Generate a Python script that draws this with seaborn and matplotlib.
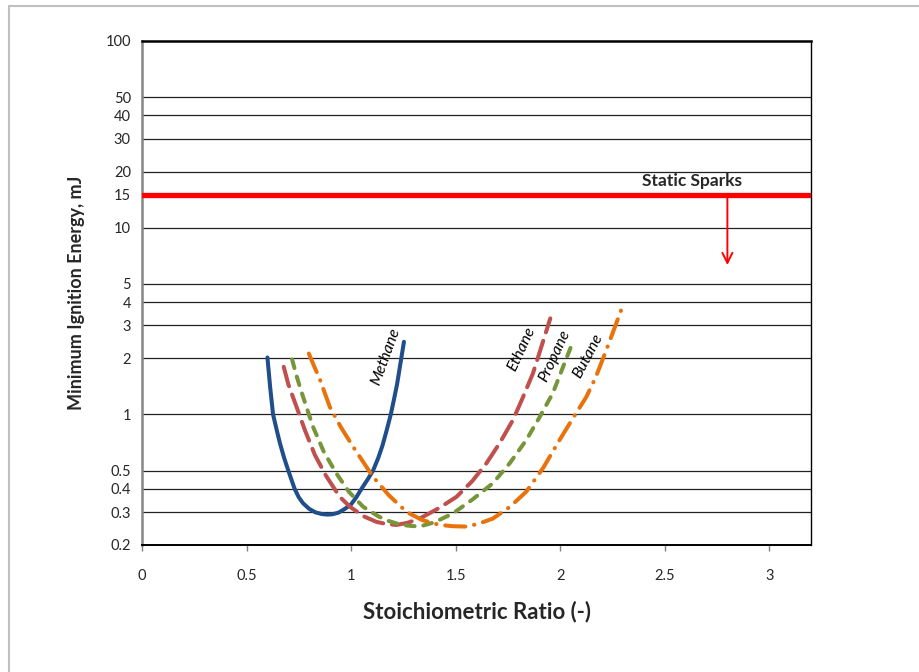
"""Minimum ignition energy vs stoichiometric ratio for light alkanes."""

import matplotlib
matplotlib.use('Agg')
import matplotlib.pyplot as plt
import seaborn as sns
import pandas as pd

# curve data
methane_x = [0.60, 0.613, 0.627, 0.645, 0.66, 0.68, 0.70, 0.73, 0.75, 0.77, 0.80,
             0.83, 0.86, 0.885, 0.91, 0.94, 0.97, 1.00, 1.025, 1.05, 1.08, 1.105,
             1.13, 1.15, 1.17, 1.19, 1.205, 1.22, 1.237, 1.253]
methane_y = [2.02, 1.40, 1.00, 0.82, 0.70, 0.585, 0.50, 0.40, 0.36, 0.335, 0.312,
             0.299, 0.293, 0.291, 0.292, 0.298, 0.312, 0.33, 0.36, 0.40, 0.45, 0.50,
             0.585, 0.68, 0.82, 1.00, 1.20, 1.45, 1.90, 2.45]

ethane_x = [0.678, 0.70, 0.739, 0.78, 0.827, 0.88, 0.946, 0.994, 1.06, 1.121, 1.17,
            1.217, 1.27, 1.328, 1.42, 1.504, 1.58, 1.647, 1.71, 1.774, 1.82, 1.87,
            1.91, 1.953]
ethane_y = [1.80, 1.45, 1.10, 0.82, 0.607, 0.47, 0.362, 0.321, 0.285, 0.266, 0.259,
            0.256, 0.263, 0.277, 0.315, 0.362, 0.44, 0.547, 0.70, 0.933, 1.22, 1.66,
            2.30, 3.27]

propane_x = [0.718, 0.74, 0.76, 0.818, 0.87, 0.93, 0.99, 1.057, 1.13, 1.17, 1.217,
             1.27, 1.328, 1.40, 1.487, 1.58, 1.678, 1.76, 1.838, 1.90, 1.965, 2.01,
             2.061]
propane_y = [1.97, 1.60, 1.35, 0.859, 0.63, 0.483, 0.385, 0.321, 0.285, 0.271, 0.261,
             0.254, 0.251, 0.265, 0.295, 0.35, 0.428, 0.55, 0.729, 0.96, 1.30, 1.75,
             2.45]

butane_x = [0.798, 0.82, 0.85, 0.898, 0.95, 1.010, 1.105, 1.18, 1.265, 1.34, 1.424,
            1.49, 1.551, 1.61, 1.678, 1.76, 1.838, 1.92, 1.997, 2.06, 2.125, 2.17,
            2.22, 2.26, 2.297]
butane_y = [2.12, 1.85, 1.55, 1.10, 0.86, 0.671, 0.464, 0.37, 0.301, 0.272, 0.256,
            0.252, 0.251, 0.260, 0.277, 0.32, 0.386, 0.52, 0.729, 0.95, 1.24, 1.58,
            2.20, 2.90, 3.75]

y_ticks = [0.2, 0.3, 0.4, 0.5, 1, 2, 3, 4, 5, 10, 15, 20, 30, 40, 50, 100]
x_ticks = [0, 0.5, 1, 1.5, 2, 2.5, 3]

static_spark_level = 15
arrow_x, arrow_tip = 2.8, 6.1

# name, x, y, colour, dash pattern, label position, label angle
curves = [
    ('Methane', methane_x, methane_y, '#1f4e8a', '-', (1.165, 2.05), 70),
    ('Ethane', ethane_x, ethane_y, '#c0504d', (0, (5.0, 2.2)), (1.815, 2.25), 65),
    ('Propane', propane_x, propane_y, '#77963a', (0, (2.2, 2.2)), (1.975, 2.05), 65),
    ('Butane', butane_x, butane_y, '#e8730c', (0, (5.0, 2.2, 0.1, 2.2)), (2.135, 2.05), 62),
]

sns.set_theme(style='white')
plt.rcParams['font.family'] = ['Lato', 'DejaVu Sans']

fig = plt.figure(figsize=(9.19, 6.72), dpi=100)
ax = fig.add_axes([0.1545, 0.189, 0.728, 0.750])

for name, xs, ys, color, ls, lpos, rot in curves:
    df = pd.DataFrame({'x': xs, 'y': ys})
    sns.lineplot(data=df, x='x', y='y', ax=ax, sort=False, estimator=None,
                 color=color, linewidth=2.9, linestyle=ls,
                 dash_capstyle='round', solid_capstyle='round',
                 solid_joinstyle='round')
    ax.text(lpos[0], lpos[1], name, rotation=rot, style='italic', fontsize=11.5,
            ha='center', va='center', color='black')

ax.set_yscale('log')
ax.set_xlim(0, 3.2)
ax.set_ylim(0.2, 100)

for t in y_ticks[1:-1]:
    ax.axhline(t, color='#222222', linewidth=0.9, zorder=0)

ax.axhline(static_spark_level, color='#ff0000', linewidth=3.8, zorder=3)
ax.annotate('', xy=(arrow_x, arrow_tip), xytext=(arrow_x, static_spark_level),
            arrowprops=dict(arrowstyle='->,head_width=0.3,head_length=0.6',
                            color='#ff0000', lw=1.4))
ax.text(2.63, 17.8, 'Static Sparks', fontsize=12.5, fontweight='bold',
        ha='center', va='center')

ax.set_yticks(y_ticks)
ax.set_yticklabels([f'{t:g}' for t in y_ticks])
ax.minorticks_off()
ax.set_xticks(x_ticks)
ax.set_xticklabels([f'{t:g}' for t in x_ticks])
ax.tick_params(axis='y', length=0, pad=8, labelsize=10.5)
ax.tick_params(axis='x', direction='out', length=4, width=1, color='#808080',
               pad=13, labelsize=10.5, bottom=True)

for side in ['top', 'right', 'bottom']:
    ax.spines[side].set_color('black')
ax.spines['top'].set_linewidth(1.8)
ax.spines['right'].set_linewidth(1.0)
ax.spines['bottom'].set_linewidth(1.4)
ax.spines['left'].set_color('#868686')
ax.spines['left'].set_linewidth(1.8)

ax.set_xlabel('Stoichiometric Ratio (-)', fontsize=16, fontweight='bold', labelpad=13)
ax.set_ylabel('Minimum Ignition Energy, mJ', fontsize=13, fontweight='bold', labelpad=15)

# light outer chart-area frame (top and left edges visible)
fig.add_artist(plt.Line2D([9 / 919, 1], [1 - 6 / 672, 1 - 6 / 672],
                          transform=fig.transFigure, color='#c0c0c0', lw=1.5))
fig.add_artist(plt.Line2D([9 / 919, 9 / 919], [0, 1 - 6 / 672],
                          transform=fig.transFigure, color='#c0c0c0', lw=1.5))

fig.savefig('out.png', dpi=100)
plt.close(fig)
